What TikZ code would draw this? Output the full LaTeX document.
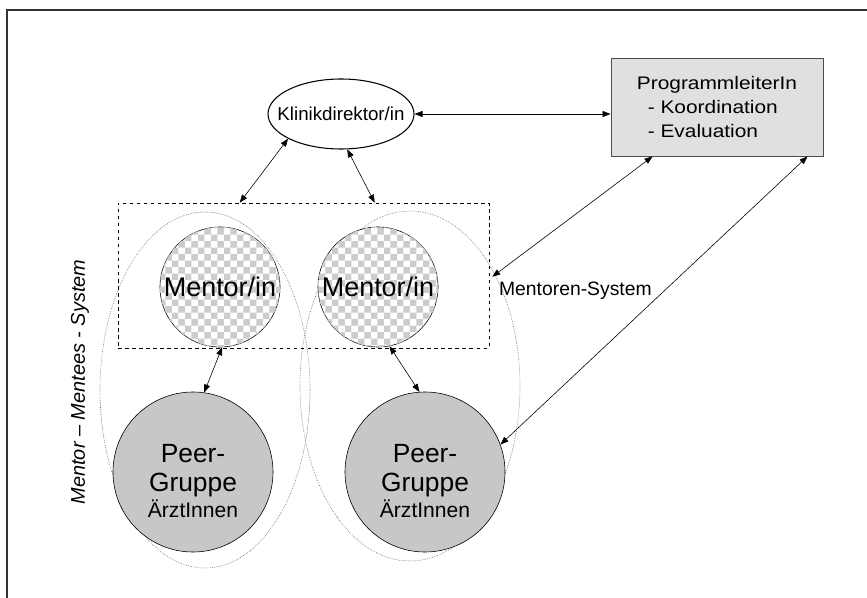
\documentclass[tikz,border=0pt]{standalone}
\usepackage{fontspec}
\setmainfont{Liberation Sans}
\newfontfamily\boxfont[FakeStretch=1.15]{Liberation Sans}
\usetikzlibrary{arrows.meta,patterns,shapes.geometric,calc}

\begin{document}
\begin{tikzpicture}[x=0.03cm,y=-0.03cm,
    link/.style={{Triangle[length=2.4mm,width=1.8mm]}-{Triangle[length=2.4mm,width=1.8mm]},
      line width=0.5pt},
    mentorball/.style={circle,
      draw,
      line width=0.5pt,
      minimum size=3.6cm,
      inner sep=0pt,
      fill=white,
      postaction={pattern=checkerboard, pattern color=black!20},
      font=\fontsize{23}{26}\selectfont},
    peerball/.style={circle,
      draw,
      line width=0.5pt,
      minimum size=4.8cm,
      inner sep=0pt,
      fill=black!22,
      align=center,
      font=\fontsize{22.5}{25}\selectfont},
    groupring/.style={ellipse,
      draw=black!65,
      densely dotted,
      line width=0.5pt,
      inner sep=0pt}]

  \useasboundingbox (0,0) rectangle (867,598);

  % Frame
  \draw[line width=1.2pt, black!80] (7,598) -- (7,10) -- (867,10);

  % Mentor-Mentees groups
  \node[groupring,
    minimum width=6.3cm,
    minimum height=10.68cm] (grpA) at (205,390) {};
  \node[groupring,
    minimum width=6.6cm,
    minimum height=10.5cm] (grpB) at (410,386) {};

  % Mentoren-System
  \node[draw,
    dashed,
    line width=0.5pt,
    minimum width=11.13cm,
    minimum height=4.35cm,
    inner sep=0pt] (mentsys) at (303.5,275.5) {};

  % Klinikdirektor/in
  \node[ellipse,
    draw,
    line width=0.9pt,
    minimum width=4.38cm,
    minimum height=2.1cm,
    inner xsep=-12pt,
    inner ysep=0pt,
    font=\fontsize{16}{19}\selectfont] (klinik) at (341,114) {Klinikdirektor/in};

  % ProgrammleiterIn
  \node[draw=black!70,
    line width=0.8pt,
    fill=black!12,
    minimum width=6.36cm,
    minimum height=2.94cm,
    align=left,
    font=\boxfont\fontsize{15.5}{20.4}\selectfont] (prog) at (717,107)
    {ProgrammleiterIn\\\hspace*{0.6em}- Koordination\\\hspace*{0.6em}- Evaluation};

  % Mentors
  \node[mentorball] (mentA) at (220,287) {Mentor/in};
  \node[mentorball] (mentB) at (378,287) {Mentor/in};

  % Peer groups
  \node[peerball] (peerA) at (193,472)
    {\rule{0pt}{31pt}Peer-\\Gruppe\\[-3pt]{\fontsize{18}{21}\selectfont ÄrztInnen}};
  \node[peerball] (peerB) at (425,472)
    {\rule{0pt}{31pt}Peer-\\Gruppe\\[-3pt]{\fontsize{18}{21}\selectfont ÄrztInnen}};

  % Text labels
  \node[rotate=90,
    font=\itshape\fontsize{17}{20}\selectfont] (mmlabel) at (80,382) {Mentor – Mentees - System};
  \node[anchor=west,
    font=\fontsize{16.5}{19}\selectfont] (mslabel) at (495,291) {Mentoren-System};

  % Draw Arrows
  \draw[link] (klinik.east) -- (klinik.east -| prog.west);
  \draw[link] (klinik.205) -- ($(mentsys.north west)+(122,0)$);
  \draw[link] (klinik.-80) -- ($(mentsys.north west)+(257,0)$);
  \draw[link] (mentA.-88) -- (peerA.82);
  \draw[link] (mentB.-79) -- (peerB.94);
  \draw[link] ($(prog.south west)+(42,0)$) -- ($(mentsys.north east)+(3,74)$);
  \draw[link] ($(prog.south east)+(-16,0)$) -- (peerB.20);
\end{tikzpicture}
\end{document}
